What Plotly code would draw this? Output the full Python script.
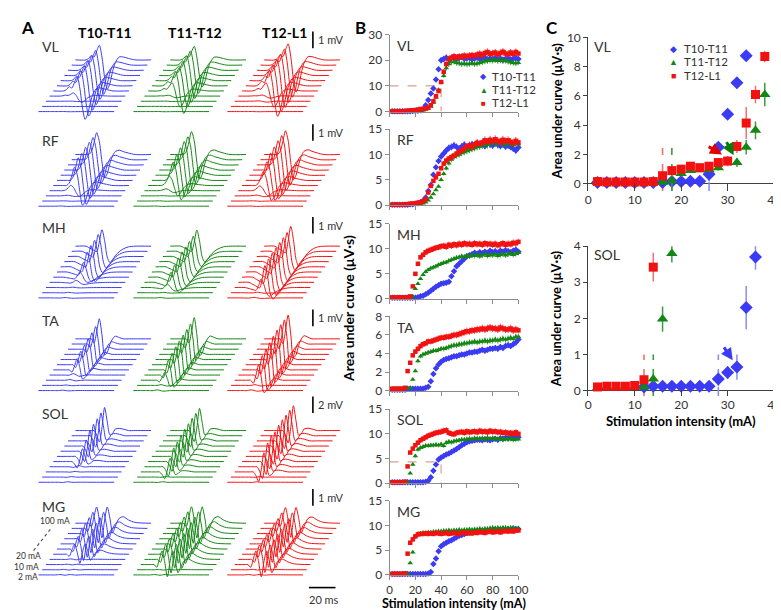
import plotly.graph_objects as go

# ======================= DATA =======================
groups = ["T10-T11", "T11-T12", "T12-L1"]
muscles = ["VL", "RF", "MH", "TA", "SOL", "MG"]

# ---- Panel B: area under curve vs stimulation intensity (2..100 mA, step 2) ----
intensity = list(range(2, 101, 2))

vl_t10 = [0.1,0.1,0.1,0.1,0.1, 0.1,0.1,0.1,0.2,0.2, 0.3,0.5,1.0,2.5,4.5, 7.0,9.0,12.5,16.5,20.0,
          20.5,21.0,20.3,20.8,21.2, 20.5,20.9,21.3,20.6,20.8, 21.0,20.4,20.7,21.1,20.5, 20.6,21.0,20.3,20.8,20.5,
          20.9,20.4,20.7,20.2,20.6, 20.8,20.3,20.6,20.9,20.5]
vl_t11 = [0.1,0.1,0.1,0.1,0.1, 0.1,0.1,0.1,0.1,0.2, 0.2,0.3,0.5,0.8,1.2, 2.0,3.5,5.5,8.5,11.5,
          14.0,17.0,18.5,19.3,19.5, 19.0,18.8,18.5,18.7,18.4, 18.6,18.9,18.5,18.7,19.0, 19.3,19.6,19.8,20.0,19.9,
          20.1,19.8,20.0,19.7,19.9, 19.5,19.2,19.0,18.8,19.0]
vl_t12 = [0.1,0.1,0.1,0.1,0.1, 0.2,0.3,0.4,0.5,0.6, 0.8,1.0,1.0,1.2,1.5, 2.5,4.0,6.0,8.0,11.5,
          15.5,18.5,20.5,21.0,21.5, 21.0,21.5,21.3,21.8,21.5, 21.8,22.0,21.6,22.2,22.5, 22.0,22.8,23.2,22.5,22.7,
          23.0,22.3,22.8,23.3,22.6, 22.4,23.0,22.5,23.2,22.6]

rf_t10 = [0.1,0.1,0.1,0.1,0.1, 0.1,0.1,0.2,0.2,0.3, 0.4,0.6,0.9,1.5,2.8, 4.0,6.0,7.5,8.7,9.6,
          10.2,10.8,11.3,11.5,11.8, 11.5,11.2,11.6,11.9,11.4, 11.8,12.0,11.6,12.2,11.9, 12.1,11.7,12.3,12.0,11.8,
          12.2,11.9,11.7,12.0,11.6, 11.8,11.5,11.2,10.8,11.4]
rf_t11 = [0.1,0.1,0.1,0.1,0.1, 0.1,0.1,0.1,0.1,0.1, 0.2,0.3,0.4,0.6,1.0, 1.5,2.2,3.0,3.7,5.0,
          6.2,7.3,8.3,9.0,9.5, 9.8,10.0,10.3,10.5,10.7, 10.9,11.1,11.3,11.5,11.6, 11.8,12.0,11.9,12.1,12.2,
          12.4,12.1,12.5,12.2,12.0, 12.3,12.1,11.9,12.2,12.0]
rf_t12 = [0.1,0.1,0.1,0.1,0.1, 0.2,0.2,0.3,0.3,0.4, 0.5,0.6,0.8,1.2,2.5, 3.8,4.8,5.5,6.2,7.3,
          8.2,8.8,9.2,9.5,9.8, 10.2,10.5,10.8,11.2,11.6, 11.8,11.5,12.0,12.3,12.1, 12.4,12.8,12.5,12.9,12.6,
          13.0,12.7,12.4,12.9,12.6, 12.8,12.5,12.3,12.7,12.4]

mh_t10 = [0.2,0.2,0.2,0.2,0.2, 0.2,0.2,0.2,0.2,0.2, 0.3,0.5,0.6,0.9,1.2, 1.6,2.0,2.4,2.7,3.0,
          3.1,3.2,3.4,4.5,5.5, 6.5,7.0,7.5,8.0,8.5, 8.7,8.9,9.2,9.0,9.3, 9.1,9.4,9.2,9.6,9.3,
          9.5,9.2,9.6,9.4,9.7, 9.5,9.3,9.6,9.8,9.4]
mh_t11 = [0.2,0.2,0.2,0.2,0.2, 0.2,0.2,0.2,0.5,2.0, 3.0,4.0,4.8,5.4,5.8, 6.1,6.3,6.5,6.8,7.0,
          7.2,7.3,7.6,7.8,8.0, 8.2,8.3,8.5,8.4,8.6, 8.5,8.7,8.6,8.8,8.5, 8.7,8.9,8.6,8.8,8.7,
          8.9,8.6,8.8,9.0,8.7, 8.9,9.1,8.8,9.0,9.2]
mh_t12 = [0.3,0.3,0.3,0.3,0.3, 0.3,0.3,0.5,2.5,5.0, 7.0,8.3,8.8,9.3,9.6, 9.8,10.0,10.2,10.3,10.5,
          10.6,10.4,10.8,10.6,10.9, 10.7,11.0,10.8,11.1,10.9, 11.0,10.8,11.1,10.9,11.0, 10.8,11.1,10.9,11.0,10.8,
          11.0,10.7,10.9,11.1,10.8, 11.0,10.9,11.2,11.1,11.4]

ta_t10 = [0.1,0.1,0.1,0.1,0.1, 0.1,0.2,0.2,0.2,0.2, 0.2,0.2,0.2,0.3,0.4, 1.0,1.8,2.4,2.8,3.1,
          3.3,3.4,3.5,3.6,3.7, 3.7,3.8,3.9,3.9,4.0, 4.1,4.1,4.2,4.2,4.3, 4.4,4.3,4.4,4.5,4.5,
          4.6,4.5,4.7,4.6,4.8, 4.9,4.8,5.0,5.2,5.5]
ta_t11 = [0.2,0.2,0.2,0.2,0.2, 0.2,0.2,0.3,1.2,2.1, 3.2,3.7,3.9,4.0,4.1, 4.2,4.3,4.3,4.4,4.5,
          4.5,4.6,4.7,4.8,4.9, 4.9,5.0,5.0,5.1,5.1, 5.2,5.2,5.3,5.2,5.3, 5.3,5.4,5.3,5.4,5.4,
          5.5,5.4,5.5,5.6,5.5, 5.6,5.7,5.6,5.8,5.8]
ta_t12 = [0.2,0.2,0.2,0.2,0.2, 0.3,2.1,3.0,3.8,4.2, 4.5,4.8,5.0,5.1,5.3, 5.3,5.4,5.5,5.6,5.7,
          5.7,5.8,5.8,5.9,6.0, 6.0,6.1,6.2,6.3,6.4, 6.4,6.5,6.5,6.6,6.6, 6.7,6.6,6.7,6.8,6.7,
          6.7,6.6,6.8,6.7,6.6, 6.6,6.7,6.5,6.6,6.5]

sol_t10 = [0.2,0.2,0.2,0.2,0.2, 0.2,0.2,0.2,0.2,0.2, 0.2,0.2,0.2,0.3,0.5, 1.2,2.5,3.8,4.8,5.2,
           5.5,5.8,6.0,6.3,6.6, 6.9,7.3,7.7,8.0,8.3, 8.5,8.6,8.7,8.8,8.8, 8.7,8.9,8.8,8.7,8.9,
           9.0,8.8,9.1,9.0,9.2, 9.1,9.3,9.2,9.4,9.3]
sol_t11 = [0.2,0.2,0.2,0.2,0.2, 0.2,0.3,2.0,3.8,5.5, 6.8,7.2,7.4,7.6,7.6, 7.7,7.7,7.8,7.7,7.9,
           7.6,8.2,8.4,8.3,8.5, 8.6,8.7,8.8,8.8,8.9, 9.0,8.9,9.1,9.0,9.0, 9.1,8.9,9.2,9.0,9.1,
           9.0,8.9,9.1,8.8,9.0, 8.9,9.0,8.8,8.9,8.9]
sol_t12 = [0.2,0.2,0.2,0.2,0.2, 0.3,3.4,6.2,7.0,7.7, 8.2,8.7,9.0,9.3,9.6, 9.8,10.0,10.2,10.3,10.4,
           10.6,10.7,10.2,10.0,9.9, 10.2,10.3,10.4,10.2,10.5, 10.3,10.4,10.5,10.3,10.6, 10.4,10.5,10.3,10.6,10.4,
           10.5,10.3,10.4,10.2,10.3, 10.1,10.2,10.0,10.3,10.0]

mg_t10 = [0.2,0.2,0.2,0.2,0.2, 0.2,0.2,0.2,0.2,0.2, 0.2,0.2,0.2,0.2,0.3, 0.6,2.2,3.3,4.8,5.8,
          6.2,6.5,6.8,7.0,7.3, 7.6,7.9,8.1,8.3,8.5, 8.6,8.7,8.8,8.8,8.9, 8.9,9.0,9.0,9.1,9.1,
          9.2,9.1,9.2,9.3,9.2, 9.3,9.2,9.4,9.3,9.3]
mg_t11 = [0.2,0.2,0.2,0.2,0.2, 0.2,0.3,2.4,4.6,7.8, 8.3,8.4,8.5,8.5,8.6, 8.6,8.7,8.7,8.8,8.8,
          8.9,8.9,9.0,8.9,9.0, 9.0,9.1,9.0,9.1,9.1, 9.2,9.1,9.2,9.2,9.3, 9.2,9.3,9.3,9.4,9.5,
          9.4,9.5,9.4,9.5,9.5, 9.4,9.5,9.4,9.3,9.4]
mg_t12 = [0.2,0.2,0.2,0.2,0.2, 0.3,4.3,6.5,7.2,7.8, 8.2,8.3,8.3,8.4,8.3, 8.4,8.3,8.5,8.4,8.3,
          8.4,8.5,8.3,8.4,8.5, 8.4,8.3,8.5,8.6,8.4, 8.5,8.4,8.6,8.5,8.7, 8.6,8.5,8.7,8.8,8.6,
          8.7,8.8,8.6,8.8,8.9, 8.8,8.9,8.8,9.0,9.0]

b_data = {
    "VL": [vl_t10, vl_t11, vl_t12], "RF": [rf_t10, rf_t11, rf_t12], "MH": [mh_t10, mh_t11, mh_t12],
    "TA": [ta_t10, ta_t11, ta_t12], "SOL": [sol_t10, sol_t11, sol_t12], "MG": [mg_t10, mg_t11, mg_t12],
}
b_ymax = {"VL": 30, "RF": 15, "MH": 15, "TA": 8, "SOL": 15, "MG": 15}
b_dtick = {"VL": 10, "RF": 5, "MH": 5, "TA": 2, "SOL": 5, "MG": 5}
# half-max guide lines (level, intensity)
b_guides = {"VL": (10, 40), "SOL": (4.3, 40)}

# ---- Panel A: traces at these intensities; waveform templates (time ms, bar units) ----
a_intensity = [2, 10, 20, 30, 40, 50, 60, 70, 80, 90, 100]
a_scale_text = {"VL": "1 mV", "RF": "1 mV", "MH": "1 mV", "TA": "1 mV", "SOL": "2 mV", "MG": "1 mV"}
tmpl_t = [0, 8, 10, 12, 14, 16, 18, 20, 22, 24, 26, 28, 30, 33, 36, 40, 45, 57]
tmpl = {
    "VL":  [0, 0, 0.1, 0.3, 0.2, 0.6, 1.0, 0.2, -1.2, -2.0, -1.6, -0.8, -0.2, 0.2, 0.2, 0.1, 0, 0],
    "RF":  [0, 0, 0, 0.2, 0.8, 1.5, 0.9, -0.5, -1.6, -1.3, -0.6, -0.1, 0.2, 0.3, 0.2, 0.1, 0, 0],
    "MH":  [0, 0, -0.1, -0.2, -0.3, -0.4, 0.3, 1.2, 0.4, -0.8, -1.2, -1.0, -0.7, -0.4, -0.2, -0.05, 0, 0],
    "TA":  [0, 0, 0, 0, -0.3, 0.5, 1.5, 0.3, -1.2, -1.0, -0.4, 0, 0.2, 0.1, 0, 0, 0, 0],
    "SOL": [0, 0, 0, 0, 0, -0.3, -0.8, 0.2, 1.6, 0.6, -0.3, -0.2, 0.1, 0.15, 0.1, 0, 0, 0],
    "MG":  [0, 0, 0, -0.2, 0.4, 1.0, 0.2, -0.9, 0.2, 1.0, 0.3, -0.6, -0.2, 0.3, 0.4, 0.2, 0.05, 0],
}

# ---- Panel C: group means with error bars ----
c_vl_x_t10 = [2,4,6,8,10,12,14,16,18,20,22,24,26,28,30,32,34]
c_vl_t10 = [0.08,0.08,0.08,0.08,0.08,0.08,0.08,0.08,0.15,0.15,0.18,0.18,0.65,2.5,4.75,6.9,8.75]
c_vl_t10_err = [0.02,0.02,0.02,0.02,0.02,0.02,0.02,0.02,0.05,0.05,0.05,0.05,0.5,0.3,0.3,0.2,0.2]
c_vl_x_t11 = [2,4,6,8,10,12,14,16,18,20,22,24,26,28,32,34,36,38]
c_vl_t11 = [0.08,0.08,0.08,0.08,0.08,0.08,0.08,0.1,0.2,0.7,0.9,0.95,0.95,1.1,1.45,2.5,3.65,6.1]
c_vl_t11_err = [0.02,0.02,0.02,0.02,0.02,0.02,0.02,0.05,0.7,0.2,0.15,0.15,0.15,0.2,0.3,0.5,0.6,0.8]
c_vl_x_t12 = [2,4,6,8,10,12,14,16,18,20,22,24,26,28,30,32,34,36,38]
c_vl_t12 = [0.15,0.12,0.12,0.12,0.12,0.12,0.15,0.55,0.9,1.0,1.2,1.1,1.2,1.45,1.55,2.55,4.15,6.1,8.7]
c_vl_t12_err = [0.05,0.05,0.05,0.05,0.05,0.05,0.05,0.1,0.15,0.15,0.15,0.15,0.2,0.3,0.35,0.45,1.1,0.6,0.4]

c_sol_x_t10 = [12,14,16,18,20,22,24,26,28,30,32,34,36]
c_sol_t10 = [0.1,0.12,0.12,0.12,0.12,0.12,0.12,0.12,0.32,0.5,0.65,2.3,3.7]
c_sol_t10_err = [0.02,0.02,0.02,0.02,0.02,0.02,0.02,0.02,0.2,0.18,0.35,0.6,0.35]
c_sol_x_t11 = [2,4,6,8,10,12,14,16,18]
c_sol_t11 = [0.08,0.1,0.1,0.1,0.1,0.1,0.32,1.98,3.8]
c_sol_t11_err = [0.02,0.02,0.02,0.02,0.02,0.02,0.1,0.35,0.25]
c_sol_x_t12 = [2,4,6,8,10,12,14]
c_sol_t12 = [0.1,0.12,0.12,0.12,0.14,0.3,3.42]
c_sol_t12_err = [0.05,0.05,0.05,0.05,0.05,0.1,0.4]

# threshold markers (intensity, top of dashed line)
c_vl_thr = [(26, 1.9), (18, 2.45), (16, 2.45)]
c_sol_thr = [(28, 1.0), (14, 1.0), (12, 1.0)]

# ======================= STYLE / LAYOUT =======================
W, H = 781, 610
FONT = "Lato"
COLS = ["#3b3bf5", "#138613", "#f21111"]
DASHCOLS = ["#8c8cf5", "#3f9a3f", "#f27070"]
SYMS = ["diamond", "triangle-up", "square"]
AXC = "#8c8c8c"
TXT = "#333333"


def px(x):
    return x / W


def py(y):
    return 1 - y / H


fig = go.Figure()
ann = []
shapes = []

# ---------------- Panel A ----------------
PX_MS, PX_MV = 1.35, 17.0
A_W = 342
gx0 = [28, 124.5, 220]          # start pixel of lowest trace per group
row_base = [98, 195, 289, 384, 478, 573]  # baseline pixel of lowest trace per row
DX, DY = 3.75, 5.3
for r, m in enumerate(muscles):
    allv = [v for s in b_data[m] for v in s]
    vmax = max(allv)
    for g in range(3):
        xs, ys = [], []
        series = b_data[m][g]
        for i, I in enumerate(a_intensity):
            amp = series[intensity.index(I)] / vmax
            x0 = (gx0[g] + i * DX) / PX_MS
            y0 = (H - row_base[r] + i * DY) / PX_MV
            for t, v in zip(tmpl_t, tmpl[m]):
                xs.append(x0 + t)
                ys.append(y0 + amp * v)
            xs.append(None)
            ys.append(None)
        fig.add_trace(go.Scatter(x=xs, y=ys, mode="lines", line=dict(color=COLS[g], width=1, shape="spline", smoothing=0.8),
                                 xaxis="x", yaxis="y", showlegend=False, hoverinfo="skip"))

lay = dict(
    xaxis=dict(domain=[0, A_W / W], range=[0, A_W / PX_MS], visible=False, fixedrange=True),
    yaxis=dict(domain=[0, 1], range=[0, H / PX_MV], visible=False, fixedrange=True),
)

ann.append(dict(x=px(8), y=py(12), text="<b>A</b>", xanchor="left", yanchor="middle", font=dict(size=17, color="black")))
ann.append(dict(x=px(348), y=py(12), text="<b>B</b>", xanchor="left", yanchor="middle", font=dict(size=17, color="black")))
ann.append(dict(x=px(542), y=py(12), text="<b>C</b>", xanchor="left", yanchor="middle", font=dict(size=17, color="black")))
for gname, cx in zip(groups, [96, 187, 278]):
    ann.append(dict(x=px(cx), y=py(17), text="<b>%s</b>" % gname, xanchor="center", yanchor="middle",
                    font=dict(size=14, color="black")))
row_lab_y = [31, 128, 217, 312, 408, 503]
bar_top = [16, 111, 206, 301, 390, 485]
for r, m in enumerate(muscles):
    ann.append(dict(x=px(29), y=py(row_lab_y[r]), text=m, xanchor="left", yanchor="middle", font=dict(size=14, color=TXT)))
    shapes.append(dict(type="line", xref="paper", yref="paper", x0=px(307), x1=px(307), y0=py(bar_top[r]),
                       y1=py(bar_top[r] + 17), line=dict(color="black", width=1.6)))
    ann.append(dict(x=px(310), y=py(bar_top[r] + 8.5), text=a_scale_text[m], xanchor="left", yanchor="middle",
                    font=dict(size=11, color=TXT)))
shapes.append(dict(type="line", xref="paper", yref="paper", x0=px(303), x1=px(330), y0=py(586), y1=py(586),
                   line=dict(color="black", width=1.6)))
ann.append(dict(x=px(318), y=py(598), text="20 ms", xanchor="center", yanchor="middle", font=dict(size=11, color=TXT)))
for txt, xr, yy in [("100 mA", 62, 518), ("20 mA", 33, 554), ("10 mA", 31, 564.5), ("2 mA", 29, 575.5)]:
    ann.append(dict(x=px(xr), y=py(yy), text=txt, xanchor="right", yanchor="middle", font=dict(size=8.5, color=TXT)))
shapes.append(dict(type="line", xref="paper", yref="paper", x0=px(23), x1=px(41), y0=py(548), y1=py(525),
                   line=dict(color="#555555", width=1.2, dash="dot")))

# ---------------- Panel B ----------------
B_X = (385, 516)
B_ROWS = [(19, 98), (116, 194), (213, 290), (308, 384), (403, 479), (497, 573)]
for r, m in enumerate(muscles):
    k = r + 2
    top, bot = B_ROWS[r]
    if m in b_guides:
        lvl, thr = b_guides[m]
        fig.add_trace(go.Scatter(x=[0, thr, thr], y=[lvl, lvl, 0], mode="lines",
                                 line=dict(color="#d9a28c", width=1.2, dash="dash"),
                                 xaxis="x%d" % k, yaxis="y%d" % k, showlegend=False, hoverinfo="skip"))
    for g in range(3):
        fig.add_trace(go.Scatter(x=intensity, y=b_data[m][g], mode="markers",
                                 marker=dict(symbol=SYMS[g], size=5 if g != 2 else 4.5, color=COLS[g], line=dict(width=0)),
                                 error_y=dict(type="percent", value=6, thickness=0.8, width=0, color=COLS[g]),
                                 cliponaxis=False, xaxis="x%d" % k, yaxis="y%d" % k, showlegend=False))
    lay["xaxis%d" % k] = dict(domain=[px(B_X[0]), px(B_X[1])], range=[0, 100], anchor="y%d" % k,
                              tickvals=[0, 20, 40, 60, 80, 100], showticklabels=(m == "MG"),
                              ticks="outside", ticklen=4, tickcolor=AXC, showline=True, linecolor=AXC,
                              showgrid=False, zeroline=False, tickfont=dict(size=11.5, color=TXT, family=FONT))
    lay["yaxis%d" % k] = dict(domain=[py(bot), py(top)], range=[0, b_ymax[m]], anchor="x%d" % k,
                              dtick=b_dtick[m], ticks="outside", ticklen=4, tickcolor=AXC, showline=True,
                              linecolor=AXC, showgrid=False, zeroline=False,
                              tickfont=dict(size=12, color=TXT, family=FONT))
    ann.append(dict(x=px(391), y=py(top + 11), text=m, xanchor="left", yanchor="middle", font=dict(size=14, color=TXT)))

ann.append(dict(x=px(451), y=py(602.5), text="<b>Stimulation intensity (mA)</b>", xanchor="center", yanchor="middle",
                font=dict(size=12.5, color="black")))
ann.append(dict(x=px(343), y=py(300), text="<b>Area under curve (μV·s)</b>", textangle=-90, xanchor="center",
                yanchor="middle", font=dict(size=14, color="black")))
for g, (gname, yy) in enumerate(zip(groups, [62, 75.5, 89])):
    ann.append(dict(x=px(481), y=py(yy), text=["◆", "▲", "■"][g], xanchor="center", yanchor="middle",
                    font=dict(size=8, color=COLS[g])))
    ann.append(dict(x=px(487), y=py(yy), text=gname, xanchor="left", yanchor="middle", font=dict(size=11.5, color=TXT)))

# ---------------- Panel C ----------------
C_X = (587, 776)
c_sets = [
    ("VL", 8, (22, 172), 10, 2, -0.5, c_vl_thr,
     [(c_vl_x_t10, c_vl_t10, c_vl_t10_err), (c_vl_x_t11, c_vl_t11, c_vl_t11_err), (c_vl_x_t12, c_vl_t12, c_vl_t12_err)]),
    ("SOL", 9, (236, 384), 4, 1, -0.15, c_sol_thr,
     [(c_sol_x_t10, c_sol_t10, c_sol_t10_err), (c_sol_x_t11, c_sol_t11, c_sol_t11_err), (c_sol_x_t12, c_sol_t12, c_sol_t12_err)]),
]
for name, k, (top, zero), ymax, dt, ylo, thr, sets in c_sets:
    ppu = (zero - top) / ymax
    bot = zero - ylo * ppu
    for g in range(3):
        tx, ttop = thr[g]
        fig.add_trace(go.Scatter(x=[tx, tx], y=[ylo, ttop], mode="lines",
                                 line=dict(color=DASHCOLS[g], width=1.6, dash="dash"),
                                 xaxis="x%d" % k, yaxis="y%d" % k, showlegend=False, hoverinfo="skip"))
    for g in range(3):
        xs, ys, es = sets[g]
        fig.add_trace(go.Scatter(x=xs, y=ys, mode="markers",
                                 marker=dict(symbol=SYMS[g], size=10 if g != 2 else 9, color=COLS[g], line=dict(width=0)),
                                 error_y=dict(type="data", array=es, thickness=1.5, width=0, color=DASHCOLS[g]),
                                 cliponaxis=False, xaxis="x%d" % k, yaxis="y%d" % k, showlegend=False))
    lay["xaxis%d" % k] = dict(domain=[px(C_X[0]), px(C_X[1])], range=[0, 40], anchor="y%d" % k, dtick=10,
                              ticks="inside", ticklen=int(round(-ylo * ppu)), tickcolor="#404040", showline=False,
                              showgrid=False, zeroline=False, tickfont=dict(size=12, color=TXT, family=FONT))
    lay["yaxis%d" % k] = dict(domain=[py(bot), py(top)], range=[ylo, ymax], anchor="x%d" % k, dtick=dt,
                              tick0=0, ticks="outside", ticklen=4, tickcolor="#404040", showline=True,
                              linecolor="#404040", showgrid=False, zeroline=True, zerolinecolor="#404040",
                              zerolinewidth=1, tickfont=dict(size=12, color=TXT, family=FONT))
    ann.append(dict(x=px(591), y=py(top + 9), text=name, xanchor="left", yanchor="middle", font=dict(size=14, color=TXT)))
    ann.append(dict(x=px(555), y=py((top + zero) / 2), text="<b>Area under curve (μV·s)</b>", textangle=-90,
                    xanchor="center", yanchor="middle", font=dict(size=13, color="black")))

ann.append(dict(x=px(681), y=py(415), text="<b>Stimulation intensity (mA)</b>", xanchor="center", yanchor="middle",
                font=dict(size=13, color="black")))
for g, (gname, yy) in enumerate(zip(groups, [33, 47, 61])):
    ann.append(dict(x=px(674), y=py(yy), text=["◆", "▲", "■"][g], xanchor="center", yanchor="middle",
                    font=dict(size=9, color=COLS[g])))
    ann.append(dict(x=px(682), y=py(yy), text=gname, xanchor="left", yanchor="middle", font=dict(size=11.5, color=TXT)))

# arrows
for (xt, yt, xa, ya, col, ax_) in [(28.8, 2.0, 25.6, 2.6, "#e00000", 8), (31.3, 1.95, 29.6, 2.95, "#0a7a0a", 8),
                                    (31.1, 0.84, 29.0, 1.24, "#3b3bf5", 9)]:
    ann.append(dict(x=xt, y=yt, ax=xa, ay=ya, xref="x%d" % ax_, yref="y%d" % ax_, axref="x%d" % ax_,
                    ayref="y%d" % ax_, showarrow=True, arrowhead=2, arrowsize=0.8, arrowwidth=3,
                    arrowcolor=col, text=""))

for a in ann:
    a.setdefault("xref", "paper")
    a.setdefault("yref", "paper")
    a.setdefault("showarrow", False)

fig.update_layout(
    width=W, height=H, margin=dict(l=0, r=0, t=0, b=0),
    paper_bgcolor="white", plot_bgcolor="rgba(0,0,0,0)",
    font=dict(family=FONT, color=TXT),
    annotations=ann, shapes=shapes, showlegend=False,
    **lay,
)
fig.write_html("out.html")
